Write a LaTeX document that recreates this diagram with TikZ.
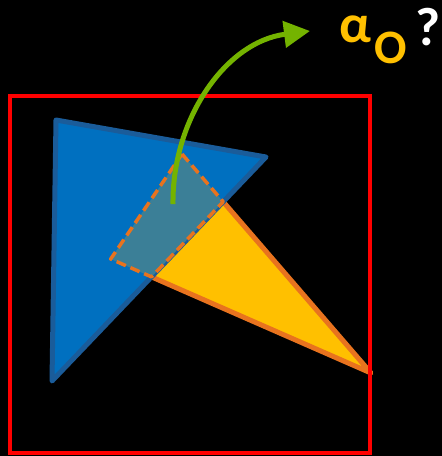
\documentclass[tikz,border=0pt]{standalone}
\usepackage{fontspec}
\setmainfont{Carlito}
\usetikzlibrary{arrows.meta}
\definecolor{bluefill}{HTML}{0070C0}
\definecolor{blueedge}{HTML}{1A5C9A}
\definecolor{yelfill}{HTML}{FFC000}
\definecolor{orangeedge}{HTML}{E8731E}
\definecolor{overlapfill}{HTML}{3B7F97}
\definecolor{redline}{HTML}{FF0000}
\definecolor{greenarrow}{HTML}{74B300}
\tikzset{
  bluetri/.style={fill=bluefill, draw=blueedge, line width=5pt, line join=round},
  yeltri/.style={fill=yelfill, draw=orangeedge, line width=5pt, line join=round},
  overlap/.style={fill=overlapfill, draw=orangeedge, line width=3.5pt, dash pattern=on 10pt off 5pt, line join=round},
  frame/.style={draw=redline, line width=4pt},
  bendarrow/.style={draw=greenarrow, line width=5pt, -{Triangle[length=26pt,width=26pt]}},
  label/.style={font=\bfseries, inner sep=0pt, anchor=base west}
}
\begin{document}
\begin{tikzpicture}[x=1pt,y=-1pt]
\fill[black] (0,0) rectangle (442,456);
\useasboundingbox (0,0) rectangle (442,456);
% vertices
\coordinate (b1) at (56,120);
\coordinate (b2) at (266,157);
\coordinate (b3) at (52,381);
\coordinate (y1) at (182,154);
\coordinate (y2) at (371,373);
\coordinate (y3) at (110.7,259);
\coordinate (q2) at (intersection of y1--y2 and b2--b3);
\coordinate (q3) at (intersection of y3--y2 and b2--b3);
% shapes
\path[yeltri] (y1) -- (y2) -- (y3) -- cycle;
\path[bluetri] (b1) -- (b2) -- (b3) -- cycle;
\path[overlap] (y1) -- (q2) -- (q3) -- (y3) -- cycle;
\draw[frame] (10,96) rectangle (369.5,453);
% arrow
\coordinate (as) at (173,204);
\coordinate (ae) at (310,31);
\draw[bendarrow] (as) .. controls (172,120) and (225,42) .. (ae);
% labels
\node[label, text=yelfill, font=\bfseries\fontsize{54}{54}\selectfont] (alpha) at (339,42) {α};
\node[label, text=yelfill, font=\bfseries\fontsize{48}{48}\selectfont] (sub) at (374.5,63) {O};
\node[label, text=white, font=\bfseries\fontsize{54}{54}\selectfont] (q) at (415,45) {?};
\end{tikzpicture}
\end{document}
